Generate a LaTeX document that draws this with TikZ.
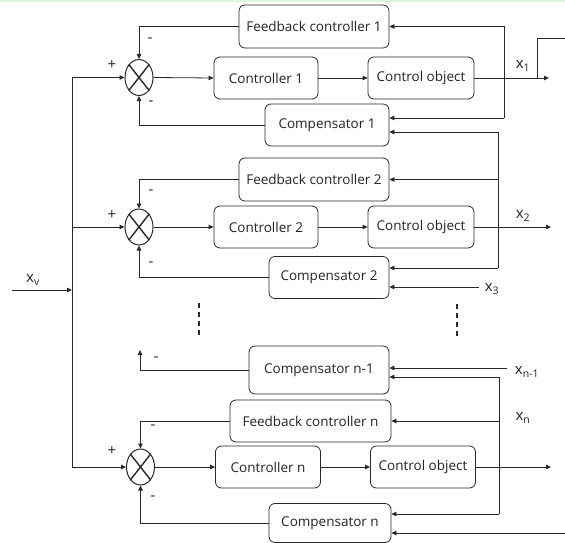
\documentclass[tikz,border=0pt]{standalone}
\usepackage{fontspec}
\setmainfont{Open Sans}
\usetikzlibrary{shapes.geometric,arrows.meta,calc}
\definecolor{lc}{RGB}{40,40,40}
\definecolor{tc}{RGB}{35,35,35}
\definecolor{topg}{RGB}{222,244,222}
\begin{document}
\begin{tikzpicture}[x=1pt,y=-1pt,
  every path/.style={line width=0.8pt},
  blk/.style={draw=lc, rounded corners=6pt, inner sep=0pt, text=tc, font=\fontsize{13.5}{16}\selectfont},
  sumj/.style={draw=lc, line width=1pt, ellipse, minimum width=28pt, minimum height=36pt, inner sep=0pt},
  cross/.style={draw=lc, line width=1.4pt},
  lbl/.style={text=tc, inner sep=0pt, font=\fontsize{15}{17}\selectfont},
  ln/.style={draw=lc},
  arr/.style={draw=lc, -{Triangle[length=5pt,width=4.5pt]}},
  dots/.style={draw=lc, line width=2pt, dash pattern=on 5pt off 4pt}]
\useasboundingbox (0,0) rectangle (565,543);
\fill[topg] (0,0) rectangle (565,2.5);

% ---------- stage 1 ----------
\node[blk, minimum width=150pt, minimum height=43pt] (fc1) at (314,26.5) {Feedback controller 1};
\node[blk, minimum width=104pt, minimum height=42pt] (c1) at (266,78) {Controller 1};
\node[blk, minimum width=106pt, minimum height=42pt] (co1) at (421,78) {Control object};
\node[blk, minimum width=124pt, minimum height=42pt] (cp1) at (327,125) {Compensator 1};
\node[sumj] (s1) at (139,77.5) {};
\draw[cross] (s1.north west) -- (s1.south east) (s1.north east) -- (s1.south west);

% ---------- stage 2 ----------
\node[blk, minimum width=150pt, minimum height=43pt] (fc2) at (314,179.5) {Feedback controller 2};
\node[blk, minimum width=104pt, minimum height=42pt] (c2) at (266,227) {Controller 2};
\node[blk, minimum width=106pt, minimum height=42pt] (co2) at (421,227) {Control object};
\node[blk, minimum width=120pt, minimum height=42pt] (cp2) at (329,277.5) {Compensator 2};
\node[sumj] (s2) at (139,227) {};
\draw[cross] (s2.north west) -- (s2.south east) (s2.north east) -- (s2.south west);

% ---------- stage n-1 / n ----------
\node[blk, minimum width=140pt, minimum height=48pt] (cpm) at (319,370) {Compensator n-1};
\node[blk, minimum width=161pt, minimum height=42pt] (fcn) at (310.5,421) {Feedback controller n};
\node[blk, minimum width=105pt, minimum height=42pt] (cn) at (268,467) {Controller n};
\node[blk, minimum width=105pt, minimum height=42pt] (con) at (423,467) {Control object};
\node[blk, minimum width=122pt, minimum height=39pt] (cpn) at (330,523) {Compensator n};
\node[sumj] (sn) at (140.5,467) {};
\draw[cross] (sn.north west) -- (sn.south east) (sn.north east) -- (sn.south west);

% ---------- free ends ----------
\coordinate (xvs) at (12,290);
\coordinate (lvt) at (72,77.5);
\coordinate (lvb) at (72,467);
\coordinate (lvm) at (72,290);
\coordinate (o1) at (549,78);
\coordinate (o2) at (551,227);
\coordinate (on) at (551,467);
\coordinate (v1t) at (504,26.5);
\coordinate (v1b) at (504,118);
\coordinate (br) at (537,78);
\coordinate (brt) at (537,38);
\coordinate (bre) at (565,38);
\coordinate (v2t) at (498,132);
\coordinate (v2b) at (498,268);
\coordinate (x3s) at (479,287);
\coordinate (xms) at (507,368);
\coordinate (vnt) at (499,377);
\coordinate (vnb) at (499,514);
\coordinate (bts) at (565,533);
\coordinate (upe) at (140,350);
\coordinate (d1a) at (199,303);
\coordinate (d1b) at (199,338);
\coordinate (d2a) at (457,304);
\coordinate (d2b) at (457,339);

% ---------- stage 1 connectors ----------
\draw[arr] (fc1.west) -| (s1.north);
\draw[arr] (cp1.west) -| (s1.south);
\draw[arr] (lvt) -- (s1.west);
\draw[arr] (s1.east) -- (c1.west);
\draw[arr] (c1.east) -- (co1.west);
\draw[arr] (co1.east) -- (o1);
\draw[ln] (v1t) -- (v1b);
\draw[arr] (v1t) -- (fc1.east);
\draw[arr] (v1b) -- (cp1.east |- v1b);
\draw[ln] (br) -- (brt) -- (bre);

% ---------- stage 2 connectors ----------
\draw[ln] (v2t) -- (v2b);
\draw[arr] (v2t) -- (cp1.east |- v2t);
\draw[arr] (v2b) -- (cp2.east |- v2b);
\draw[arr] (v2t |- fc2.east) -- (fc2.east);
\draw[arr] (x3s) -- (cp2.east |- x3s);
\draw[arr] (fc2.west) -| (s2.north);
\draw[arr] (cp2.west) -| (s2.south);
\draw[arr] (lvt |- s2.west) -- (s2.west);
\draw[arr] (s2.east) -- (c2.west);
\draw[arr] (c2.east) -- (co2.west);
\draw[arr] (co2.east) -- (o2);

% ---------- input ----------
\draw[ln] (lvt) -- (lvb);
\draw[arr] (xvs) -- (lvm);

% ---------- dots ----------
\draw[dots] (d1a) -- (d1b);
\draw[dots] (d2a) -- (d2b);

% ---------- stage n connectors ----------
\draw[arr] (cpm.west) -| (upe);
\draw[arr] (xms) -- (cpm.east |- xms);
\draw[ln] (vnt) -- (vnb);
\draw[arr] (vnt) -- (cpm.east |- vnt);
\draw[arr] (vnt |- fcn.east) -- (fcn.east);
\draw[arr] (vnb) -- (cpn.east |- vnb);
\draw[arr] (bts) -- (cpn.east |- bts);
\draw[arr] (fcn.west) -| (sn.north);
\draw[arr] (cpn.west) -| (sn.south);
\draw[arr] (lvb) -- (sn.west);
\draw[arr] (sn.east) -- (cn.west);
\draw[arr] (cn.east) -- (con.west);
\draw[arr] (con.east) -- (on);

% ---------- labels ----------
\node[lbl] (p1) at (112,65) {+};
\node[lbl] (m1a) at (150,40) {-};
\node[lbl] (m1b) at (151,103) {-};
\node[lbl] (p2) at (112,215) {+};
\node[lbl] (m2a) at (151,192) {-};
\node[lbl] (m2b) at (151,264) {-};
\node[lbl] (pn) at (112,451) {+};
\node[lbl] (mna) at (153,427) {-};
\node[lbl] (mnb) at (153,498) {-};
\node[lbl] (mm) at (156,359) {-};
\node[lbl] (lx1) at (523,66) {x\textsubscript{1}};
\node[lbl] (lx2) at (523,216) {x\textsubscript{2}};
\node[lbl] (lx3) at (492,289) {x\textsubscript{3}};
\node[lbl] (lxm) at (527,372) {x\textsubscript{n-1}};
\node[lbl] (lxn) at (523,418) {x\textsubscript{n}};
\node[lbl] (lxv) at (33,280) {x\textsubscript{v}};
\end{tikzpicture}
\end{document}
